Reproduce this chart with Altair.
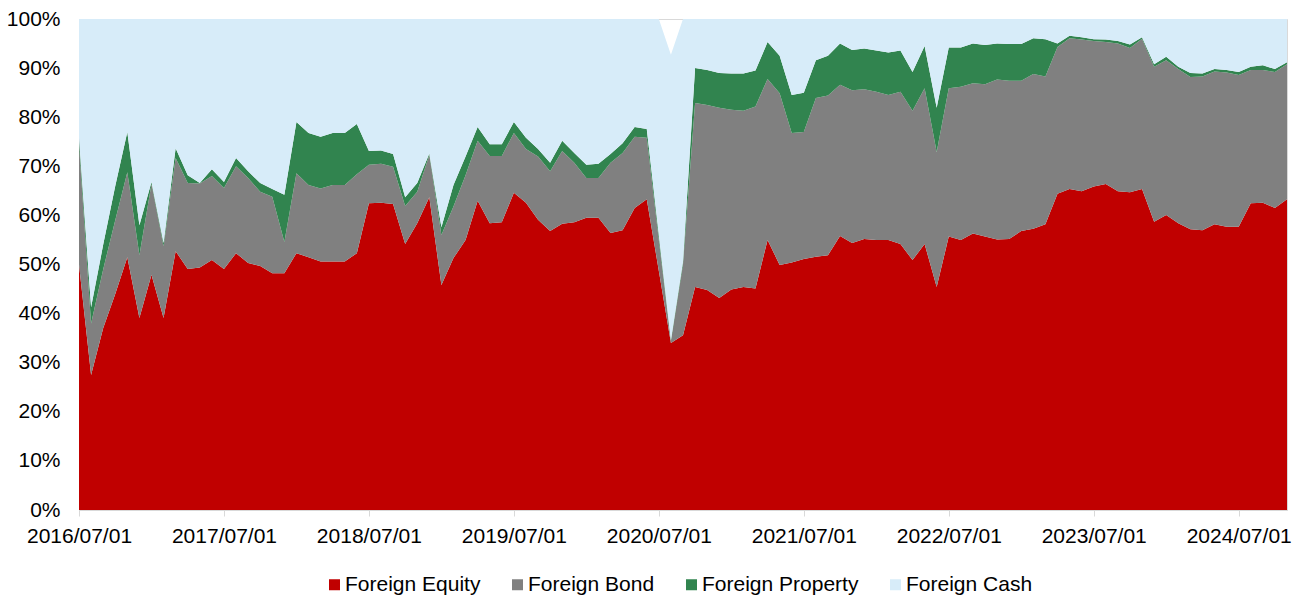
import json

import altair as alt
import pandas as pd

# Asset-class split of the foreign allocation, monthly, in percent
SERIES = ["Foreign Equity", "Foreign Bond", "Foreign Property", "Foreign Cash"]
COLORS = ["#C00000", "#808080", "#31844F", "#D7ECF9"]

dates = pd.date_range("2016-07-01", periods=101, freq="MS").strftime("%Y/%m/%d").tolist()

equity = [
    50.0, 27.5, 37.0, 44.0, 51.5, 39.1, 47.9, 39.1, 52.7, 49.1,
    49.4, 50.9, 49.1, 52.3, 50.3, 49.7, 48.2, 48.2, 52.3, 51.5,
    50.6, 50.6, 50.6, 52.3, 62.5, 62.6, 62.3, 54.2, 58.4, 63.7,
    45.8, 51.3, 55.0, 63.0, 58.4, 58.6, 64.6, 62.6, 59.1, 56.8,
    58.3, 58.6, 59.5, 59.5, 56.4, 57.0, 61.5, 63.3, 48.7, 34.0,
    35.6, 45.4, 44.8, 43.2, 44.9, 45.4, 45.1, 55.0, 49.9, 50.4,
    51.1, 51.6, 51.9, 55.8, 54.4, 55.2, 55.0, 55.0, 54.2, 50.9,
    54.2, 45.4, 55.7, 55.0, 56.3, 55.7, 55.1, 55.2, 56.8, 57.3,
    58.2, 64.4, 65.4, 64.9, 65.9, 66.4, 64.9, 64.7, 65.4, 58.7,
    60.1, 58.4, 57.2, 57.0, 58.2, 57.7, 57.7, 62.5, 62.6, 61.5,
    63.3,
]

bond = [
    24.5, 10.5, 12.0, 15.0, 17.3, 12.8, 18.5, 14.6, 19.0, 17.5,
    17.1, 17.1, 16.5, 17.7, 17.3, 15.1, 15.6, 6.4, 16.3, 14.7,
    14.9, 15.6, 15.6, 16.1, 7.8, 7.9, 7.6, 7.7, 6.4, 8.6,
    10.2, 10.5, 13.2, 12.2, 13.7, 13.5, 12.2, 10.9, 12.9, 12.2,
    14.8, 12.1, 8.1, 8.1, 14.3, 15.7, 14.5, 12.5, 6.3, 0.3,
    14.4, 37.5, 37.7, 38.7, 36.6, 35.9, 37.1, 32.8, 35.0, 26.4,
    25.9, 32.3, 32.5, 30.8, 31.1, 30.5, 30.2, 29.5, 31.0, 30.4,
    31.7, 27.5, 30.2, 31.2, 30.6, 31.0, 32.6, 32.2, 30.6, 31.5,
    30.1, 29.9, 30.7, 30.9, 29.6, 28.9, 30.1, 29.4, 30.6, 31.6,
    31.5, 31.4, 31.0, 31.3, 31.1, 31.4, 30.9, 27.1, 27.0, 27.7,
    27.5,
]

prop = [
    1.3, 3.3, 5.0, 7.0, 8.2, 6.1, 0.4, 0.7, 2.0, 1.6,
    0.1, 1.4, 1.2, 1.7, 1.4, 1.8, 1.6, 9.6, 10.4, 10.6,
    10.5, 10.6, 10.6, 10.2, 2.8, 2.7, 2.6, 1.8, 1.8, 0.3,
    1.6, 4.4, 3.8, 2.8, 2.4, 2.4, 2.2, 2.3, 1.5, 1.7,
    2.1, 2.0, 2.7, 2.9, 1.8, 2.0, 2.0, 1.8, 1.0, 0.3,
    0.6, 7.1, 7.1, 7.1, 7.4, 7.6, 7.3, 7.5, 7.6, 7.7,
    8.0, 7.7, 8.1, 8.4, 8.2, 8.3, 8.4, 8.7, 8.4, 7.9,
    8.6, 9.0, 8.3, 8.0, 8.1, 8.0, 7.3, 7.5, 7.5, 7.3,
    7.6, 0.7, 0.5, 0.5, 0.4, 0.5, 0.5, 0.7, 0.3, 0.5,
    0.7, 0.5, 0.8, 0.6, 0.5, 0.5, 0.6, 0.7, 1.0, 0.6,
    0.4,
]

cash = [
    24.2, 58.7, 46.0, 34.0, 23.0, 42.0, 33.2, 45.6, 26.3, 31.8,
    33.4, 30.6, 33.2, 28.3, 31.0, 33.4, 34.6, 35.8, 21.0, 23.2,
    24.0, 23.2, 23.2, 21.4, 26.9, 26.8, 27.5, 36.3, 33.4, 27.4,
    42.4, 33.8, 28.0, 22.0, 25.5, 25.5, 21.0, 24.2, 26.5, 29.3,
    24.8, 27.3, 29.7, 29.5, 27.5, 25.3, 22.0, 22.4, 44.0, 58.1,
    49.4, 10.0, 10.4, 11.0, 11.1, 11.1, 10.5, 4.7, 7.5, 15.5,
    15.0, 8.4, 7.5, 5.0, 6.3, 6.0, 6.4, 6.8, 6.4, 10.8,
    5.5, 18.1, 5.8, 5.8, 5.0, 5.3, 5.0, 5.1, 5.1, 3.9,
    4.1, 5.0, 3.4, 3.7, 4.1, 4.2, 4.5, 5.2, 3.7, 9.2,
    7.7, 9.7, 11.0, 11.1, 10.2, 10.4, 10.8, 9.7, 9.4, 10.2,
    8.8,
]

rows = []
for i, d in enumerate(dates):
    for k, (name, vals) in enumerate(zip(SERIES, [equity, bond, prop, cash])):
        rows.append({"m": i, "date": d, "series": name, "k": k, "value": vals[i]})
df = pd.DataFrame(rows)

# yearly ticks on the July months, labelled with the month's date
tick_idx = list(range(0, len(dates), 12))
tick_labels = json.dumps([dates[i] for i in tick_idx])

FONT = "Liberation Sans"
GRID = "#D9D9D9"

chart = (
    alt.Chart(df)
    .mark_area(interpolate="linear")
    .encode(
        x=alt.X(
            "m:Q",
            scale=alt.Scale(domain=[0, len(dates) - 1], nice=False, zero=False),
            axis=alt.Axis(
                values=tick_idx,
                labelExpr=f"{tick_labels}[round(datum.value / 12)]",
                title=None,
                grid=False,
                tickSize=6,
                tickColor=GRID,
                domainColor=GRID,
                labelPadding=9,
                labelFont=FONT,
                labelFontSize=21,
                labelColor="#000000",
                labelFlush=False,
                labelOverlap=False,
            ),
        ),
        y=alt.Y(
            "value:Q",
            stack="zero",
            scale=alt.Scale(domain=[0, 100], nice=False),
            axis=alt.Axis(
                values=list(range(0, 101, 10)),
                labelExpr="datum.value + '%'",
                title=None,
                grid=False,
                ticks=False,
                domain=False,
                labelPadding=19,
                labelFont=FONT,
                labelFontSize=21,
                labelColor="#000000",
                labelOverlap=False,
            ),
        ),
        color=alt.Color(
            "series:N",
            scale=alt.Scale(domain=SERIES, range=COLORS),
            legend=alt.Legend(
                title=None,
                orient="none",
                direction="horizontal",
                legendX=245,
                legendY=555,
                symbolType="square",
                symbolSize=121,
                symbolStrokeWidth=0,
                labelFont=FONT,
                labelFontSize=21,
                labelColor="#000000",
                labelOffset=0,
                columnPadding=26,
                padding=0,
            ),
        ),
        order=alt.Order("k:Q", sort="ascending"),
    )
    .properties(
        width=1208,
        height=491,
        autosize="none",
        padding={"left": 79, "top": 19, "right": 16, "bottom": 86},
        background="#FFFFFF",
    )
    .configure_view(stroke=GRID, strokeWidth=1)
)

chart.save("out.html", embed_options={"renderer": "svg", "actions": False})
